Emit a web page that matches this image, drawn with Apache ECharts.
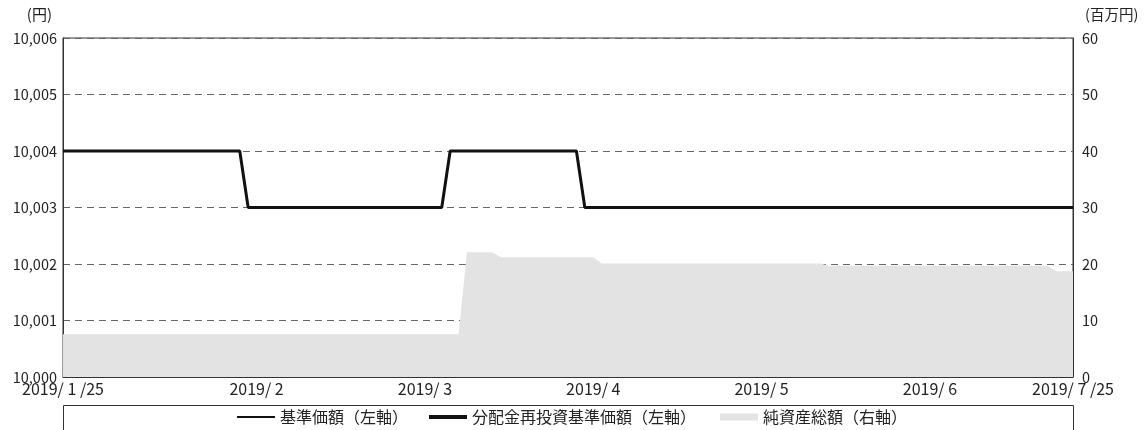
<!DOCTYPE html>
<html>
<head>
<meta charset="utf-8">
<script src="https://cdn.jsdelivr.net/npm/echarts@6/dist/echarts.min.js"></script>
<style>
html,body{margin:0;padding:0;background:#fff;}
#chart{width:1144px;height:430px;}
</style>
</head>
<body>
<div id="chart"></div>
<script>
// Business days 2019/1/25 - 2019/7/25
const dates = [
'2019/01/25','2019/01/28','2019/01/29','2019/01/30','2019/01/31',
'2019/02/01','2019/02/04','2019/02/05','2019/02/06','2019/02/07','2019/02/08','2019/02/12','2019/02/13','2019/02/14','2019/02/15',
'2019/02/18','2019/02/19','2019/02/20','2019/02/21','2019/02/22','2019/02/25','2019/02/26','2019/02/27','2019/02/28',
'2019/03/01','2019/03/04','2019/03/05','2019/03/06','2019/03/07','2019/03/08','2019/03/11','2019/03/12','2019/03/13','2019/03/14',
'2019/03/15','2019/03/18','2019/03/19','2019/03/20','2019/03/22','2019/03/25','2019/03/26','2019/03/27','2019/03/28','2019/03/29',
'2019/04/01','2019/04/02','2019/04/03','2019/04/04','2019/04/05','2019/04/08','2019/04/09','2019/04/10','2019/04/11','2019/04/12',
'2019/04/15','2019/04/16','2019/04/17','2019/04/18','2019/04/19','2019/04/22','2019/04/23','2019/04/24','2019/04/25','2019/04/26',
'2019/05/07','2019/05/08','2019/05/09','2019/05/10','2019/05/13','2019/05/14','2019/05/15','2019/05/16','2019/05/17',
'2019/05/20','2019/05/21','2019/05/22','2019/05/23','2019/05/24','2019/05/27','2019/05/28','2019/05/29','2019/05/30','2019/05/31',
'2019/06/03','2019/06/04','2019/06/05','2019/06/06','2019/06/07','2019/06/10','2019/06/11','2019/06/12','2019/06/13','2019/06/14',
'2019/06/17','2019/06/18','2019/06/19','2019/06/20','2019/06/21','2019/06/24','2019/06/25','2019/06/26','2019/06/27','2019/06/28',
'2019/07/01','2019/07/02','2019/07/03','2019/07/04','2019/07/05','2019/07/08','2019/07/09','2019/07/10','2019/07/11','2019/07/12',
'2019/07/16','2019/07/17','2019/07/18','2019/07/19','2019/07/22','2019/07/23','2019/07/24','2019/07/25'
];

// Axis labels shown (category index -> label text)
const tickLabels = {0:'2019/ 1 /25', 23:'2019/ 2', 43:'2019/ 3', 63:'2019/ 4', 83:'2019/ 5', 103:'2019/ 6', 120:'2019/ 7 /25'};

// 基準価額 (円)
const navPrice = [
10004,10004,10004,10004,10004,10004,10004,10004,10004,10004,10004,10004,10004,10004,10004,10004,10004,10004,10004,10004,10004,10004,
10003,10003,10003,10003,10003,10003,10003,10003,10003,10003,10003,10003,10003,10003,10003,10003,10003,10003,10003,10003,10003,10003,10003,10003,
10004,10004,10004,10004,10004,10004,10004,10004,10004,10004,10004,10004,10004,10004,10004,10004,
10003,10003,10003,10003,10003,10003,10003,10003,10003,10003,10003,10003,10003,10003,10003,10003,10003,10003,10003,10003,
10003,10003,10003,10003,10003,10003,10003,10003,10003,10003,10003,10003,10003,10003,10003,10003,10003,10003,10003,10003,
10003,10003,10003,10003,10003,10003,10003,10003,10003,10003,10003,10003,10003,10003,10003,10003,10003,10003,10003
];

// 分配金再投資基準価額 (円)
const reinvestPrice = [
10004,10004,10004,10004,10004,10004,10004,10004,10004,10004,10004,10004,10004,10004,10004,10004,10004,10004,10004,10004,10004,10004,
10003,10003,10003,10003,10003,10003,10003,10003,10003,10003,10003,10003,10003,10003,10003,10003,10003,10003,10003,10003,10003,10003,10003,10003,
10004,10004,10004,10004,10004,10004,10004,10004,10004,10004,10004,10004,10004,10004,10004,10004,
10003,10003,10003,10003,10003,10003,10003,10003,10003,10003,10003,10003,10003,10003,10003,10003,10003,10003,10003,10003,
10003,10003,10003,10003,10003,10003,10003,10003,10003,10003,10003,10003,10003,10003,10003,10003,10003,10003,10003,10003,
10003,10003,10003,10003,10003,10003,10003,10003,10003,10003,10003,10003,10003,10003,10003,10003,10003,10003,10003
];

// 純資産総額 (百万円)
const netAssets = [
7.55,7.55,7.55,7.55,7.55,7.55,7.55,7.55,7.55,7.55,7.55,7.55,7.55,7.55,7.55,7.55,7.55,7.55,7.55,7.55,7.55,7.55,7.55,7.55,
7.55,7.55,7.55,7.55,7.55,7.55,7.55,7.55,7.55,7.55,7.55,7.55,7.55,7.55,7.55,7.55,7.55,7.55,7.55,7.55,7.55,7.55,7.55,7.55,
22.1,22.1,22.1,22.1,
21.2,21.2,21.2,21.2,21.2,21.2,21.2,21.2,21.2,21.2,21.2,21.2,
20.1,20.1,20.1,20.1,20.1,20.1,20.1,20.1,20.1,20.1,20.1,20.1,20.1,20.1,20.1,20.1,20.1,20.1,20.1,20.1,20.1,20.1,20.1,20.1,20.1,20.1,20.1,
19.7,19.7,19.7,19.7,19.7,19.7,19.7,19.7,19.7,19.7,19.7,19.7,19.7,19.7,19.7,19.7,19.7,19.7,19.7,19.7,19.7,19.7,19.7,19.7,19.7,19.7,19.7,
18.7,18.7,18.7
];

const FONT = '"Noto Sans CJK JP", "Noto Sans", sans-serif';
const TXT = '#222';
const fmtComma = v => String(v).replace(/\B(?=(\d{3})+(?!\d))/g, ',');
const legendText = {fontFamily: FONT, fontSize: 16, color: TXT};

const chart = echarts.init(document.getElementById('chart'), null, {renderer: 'canvas'});
chart.setOption({
  animation: false,
  backgroundColor: '#fff',
  textStyle: {fontFamily: FONT, color: TXT},
  grid: {left: 63, right: 71, top: 38, bottom: 53, show: true, borderColor: '#333', borderWidth: 1, backgroundColor: 'transparent'},
  legend: [
    {data: ['基準価額（左軸）'], left: 237, top: 409, padding: 0, icon: 'rect', itemWidth: 38, itemHeight: 2, textStyle: legendText},
    {data: ['分配金再投資基準価額（左軸）'], left: 429, top: 409, padding: 0, icon: 'rect', itemWidth: 38, itemHeight: 4, textStyle: legendText},
    {data: ['純資産総額（右軸）'], left: 720, top: 409, padding: 0, icon: 'rect', itemWidth: 38, itemHeight: 7, itemGap: 0, textStyle: legendText}
  ],
  graphic: [{
    type: 'rect', silent: true,
    shape: {x: 63.5, y: 405.5, width: 1010, height: 40},
    style: {fill: 'none', stroke: '#333', lineWidth: 1}
  }],
  xAxis: {
    type: 'category', data: dates, boundaryGap: false,
    axisLine: {lineStyle: {color: '#333', width: 1}},
    axisTick: {show: true, inside: true, length: 5, lineStyle: {color: '#333'},
      interval: (i) => tickLabels[i] !== undefined && i !== 0 && i !== dates.length - 1},
    axisLabel: {interval: (i) => tickLabels[i] !== undefined, formatter: (v, i) => tickLabels[i] || '',
      fontFamily: FONT, fontSize: 16, color: TXT, margin: 4, showMinLabel: true, showMaxLabel: true},
    splitLine: {show: false}
  },
  yAxis: [
    {type: 'value', min: 10000, max: 10006, interval: 1, position: 'left',
     name: '(円)', nameLocation: 'end', nameGap: 16,
     nameTextStyle: {fontFamily: FONT, fontSize: 15, color: TXT, align: 'right', padding: [0, 11, 0, 0]},
     axisLine: {show: true, lineStyle: {color: '#333'}}, axisTick: {show: false},
     axisLabel: {formatter: fmtComma, fontFamily: FONT, fontSize: 14.5, color: TXT, margin: 6},
     splitLine: {show: true, lineStyle: {color: '#666', width: 1, type: [7, 5]}}},
    {type: 'value', min: 0, max: 60, interval: 10, position: 'right',
     name: '(百万円)', nameLocation: 'end', nameGap: 16,
     nameTextStyle: {fontFamily: FONT, fontSize: 14.5, color: TXT, align: 'left', padding: [0, 0, 0, 12]},
     axisLine: {show: true, lineStyle: {color: '#333'}}, axisTick: {show: false},
     axisLabel: {fontFamily: FONT, fontSize: 14.5, color: TXT, margin: 9},
     splitLine: {show: false}}
  ],
  series: [
    {name: '純資産総額（右軸）', type: 'line', yAxisIndex: 1, data: netAssets, symbol: 'none',
     lineStyle: {width: 0, color: '#e3e3e3'}, itemStyle: {color: '#e3e3e3'},
     areaStyle: {color: '#e3e3e3', opacity: 1}, z: 1},
    {name: '基準価額（左軸）', type: 'line', yAxisIndex: 0, data: navPrice, symbol: 'none',
     lineStyle: {width: 1.5, color: '#111'}, itemStyle: {color: '#111'}, z: 2},
    {name: '分配金再投資基準価額（左軸）', type: 'line', yAxisIndex: 0, data: reinvestPrice, symbol: 'none',
     lineStyle: {width: 3, color: '#111'}, itemStyle: {color: '#111'}, z: 3}
  ]
});
</script>
</body>
</html>
